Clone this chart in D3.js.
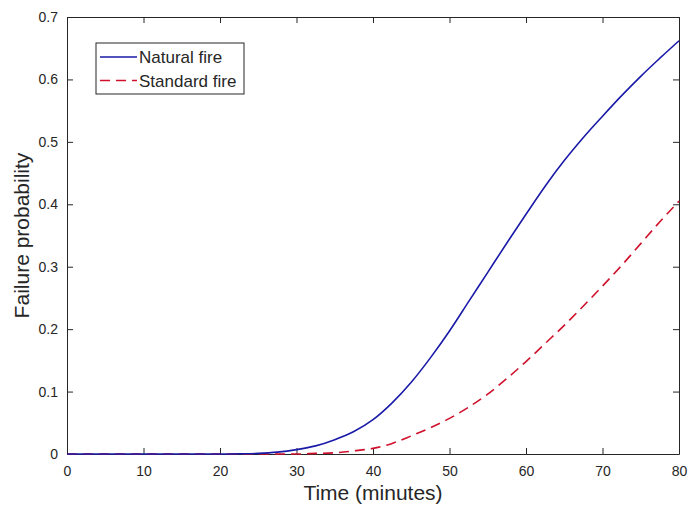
<!DOCTYPE html>
<html lang="en">
<head>
  <meta charset="UTF-8">
  <title>Failure probability</title>
  <script src="https://d3js.org/d3.v7.min.js"></script>
  <style>
  body{ margin:0; background:#fff; }
  text{ font-family: Arial, "Liberation Sans", sans-serif; fill:#262626; }
  .tick text{ font-size:14px; }
  .axis .domain{ stroke:#262626; }
  .axis .tick line{ stroke:#262626; }
  </style>
</head>
<body>
  <div class="container"></div>
  <script>
  // data
  var time     = [0, 5, 10, 15, 20, 22.5, 25, 27.5, 30, 32.5, 35, 37.5, 40, 42.5, 45, 47.5, 50, 52.5, 55, 57.5, 60, 62.5, 65, 67.5, 70, 72.5, 75, 77.5, 80];
  var natural  = [0, 0, 0, 0, 0, 0.0003, 0.001, 0.003, 0.007, 0.013, 0.023, 0.036, 0.055, 0.082, 0.115, 0.154, 0.197, 0.244, 0.291, 0.338, 0.384, 0.429, 0.470, 0.507, 0.541, 0.574, 0.605, 0.634, 0.662];
  var standard = [0, 0, 0, 0, 0, 0, 0, 0, 0, 0.001, 0.002, 0.005, 0.009, 0.017, 0.029, 0.042, 0.057, 0.075, 0.096, 0.121, 0.148, 0.177, 0.206, 0.237, 0.269, 0.302, 0.337, 0.372, 0.405];
  var xTicks = [0, 10, 20, 30, 40, 50, 60, 70, 80];
  var yTicks = [0, 0.1, 0.2, 0.3, 0.4, 0.5, 0.6, 0.7];
  var seriesNames = ['Natural fire', 'Standard fire'];

  var w = 689, h = 507,
      margin = {top: 17, right: 10, bottom: 53, left: 67};
  var g_w = w - margin.left - margin.right;
  var g_h = h - margin.top - margin.bottom;

  var xScale = d3.scaleLinear().domain([0, 80]).range([0, g_w]);
  var yScale = d3.scaleLinear().domain([0, 0.7]).range([g_h, 0]);

  var svg = d3.select('.container').append('svg')
      .attr('width', w).attr('height', h);
  var g = svg.append('g')
      .attr('transform', 'translate(' + margin.left + ',' + margin.top + ')');

  // axes, ticks pointing inward on all four sides
  g.append('g').attr('class', 'axis')
      .attr('transform', 'translate(0,' + g_h + ')')
      .call(d3.axisBottom(xScale).tickValues(xTicks).tickSizeInner(-6).tickSizeOuter(0).tickPadding(12));
  g.append('g').attr('class', 'axis')
      .call(d3.axisLeft(yScale).tickValues(yTicks).tickFormat(function(d){ return d === 0 ? '0' : d3.format('.1f')(d); })
            .tickSizeInner(-6).tickSizeOuter(0).tickPadding(9));
  g.append('g').attr('class', 'axis')
      .call(d3.axisTop(xScale).tickValues(xTicks).tickSizeInner(-6).tickSizeOuter(0).tickFormat(''));
  g.append('g').attr('class', 'axis')
      .attr('transform', 'translate(' + g_w + ',0)')
      .call(d3.axisRight(yScale).tickValues(yTicks).tickSizeInner(-6).tickSizeOuter(0).tickFormat(''));

  var line = function(vals){
    return d3.line()
      .x(function(d, i){ return xScale(time[i]); })
      .y(function(d){ return yScale(d); })
      .curve(d3.curveMonotoneX)(vals);
  };

  g.append('path').attr('d', line(standard))
      .attr('fill', 'none').attr('stroke', '#d0112b').attr('stroke-width', 1.6)
      .attr('stroke-dasharray', '10,6');
  g.append('path').attr('d', line(natural))
      .attr('fill', 'none').attr('stroke', '#1a1aa8').attr('stroke-width', 1.6);

  // axis titles
  svg.append('text')
      .attr('x', margin.left + g_w / 2).attr('y', 500)
      .attr('text-anchor', 'middle').style('font-size', '21px')
      .text('Time (minutes)');
  svg.append('text')
      .attr('transform', 'translate(29,' + (margin.top + g_h / 2) + ') rotate(-90)')
      .attr('text-anchor', 'middle').style('font-size', '21px')
      .text('Failure probability');

  // legend
  var leg = svg.append('g').attr('transform', 'translate(96,43)');
  leg.append('rect').attr('width', 148).attr('height', 51)
      .attr('fill', '#fff').attr('stroke', '#262626').attr('stroke-width', 1);
  var legColors = ['#1a1aa8', '#d0112b'], legDash = [null, '10,6'];
  seriesNames.forEach(function(name, i){
    var yy = 14 + i * 23.5;
    leg.append('line').attr('x1', 4).attr('x2', 41).attr('y1', yy).attr('y2', yy)
        .attr('stroke', legColors[i]).attr('stroke-width', 1.4)
        .attr('stroke-dasharray', legDash[i]);
    leg.append('text').attr('x', 43).attr('y', yy + 6)
        .style('font-size', '17px').text(name);
  });
  </script>
</body>
</html>
